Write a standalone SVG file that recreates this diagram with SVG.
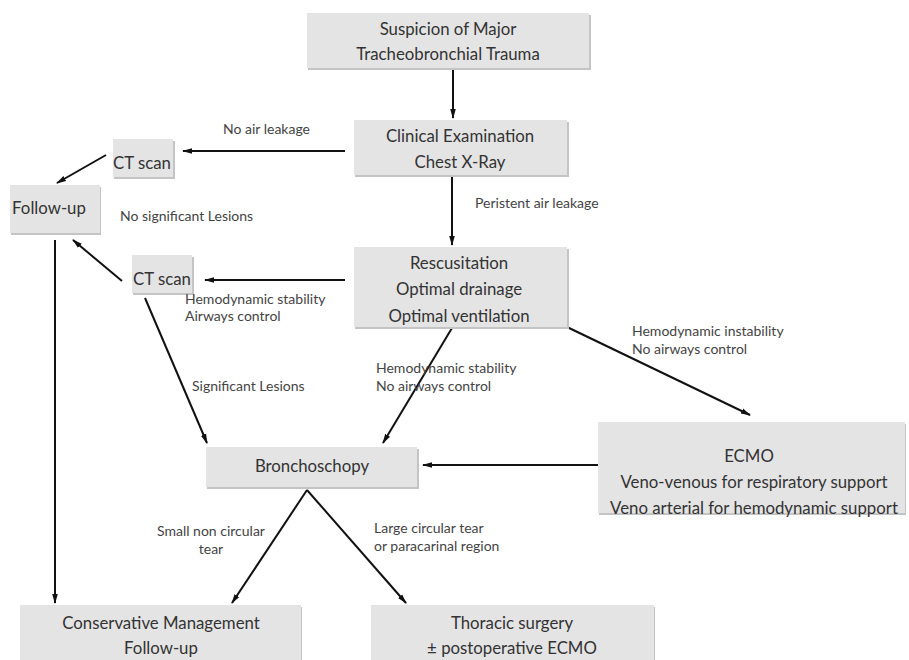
<svg xmlns="http://www.w3.org/2000/svg" width="909" height="660" viewBox="0 0 909 660">
<style>
.box{fill:#e4e4e4;}
.sh{fill:#c4c4c4;}
.t{font-family:Lato,"Open Sans","Liberation Sans",sans-serif;font-size:16.8px;fill:#333;text-anchor:middle;dominant-baseline:central;}
.l{font-family:Lato,"Open Sans","Liberation Sans",sans-serif;font-size:14px;fill:#444;dominant-baseline:central;}
.c{stroke:#111;stroke-width:2;fill:none;marker-end:url(#ah);}
</style>
<defs>
<marker id="ah" markerUnits="userSpaceOnUse" markerWidth="10" markerHeight="8" refX="9" refY="4" orient="auto">
<path d="M0,1.2 L10,4 L0,6.8 Z" fill="#111"/>
</marker>
</defs>
<rect width="909" height="660" fill="#fff"/>
<g id="connectors">
<line class="c" x1="453" y1="69" x2="453" y2="118"/>
<line class="c" x1="345" y1="151" x2="183" y2="151"/>
<line class="c" x1="106" y1="155" x2="57" y2="183"/>
<line class="c" x1="452" y1="176" x2="452" y2="245"/>
<line class="c" x1="345" y1="280" x2="205" y2="280"/>
<line class="c" x1="122" y1="281" x2="73" y2="240"/>
<line class="c" x1="55" y1="240" x2="55" y2="603"/>
<line class="c" x1="145" y1="298" x2="207" y2="443"/>
<line class="c" x1="452" y1="328" x2="383" y2="443"/>
<line class="c" x1="567" y1="327" x2="750" y2="415"/>
<line class="c" x1="598" y1="465" x2="423" y2="465"/>
<line class="c" x1="307" y1="490" x2="232" y2="603"/>
<line class="c" x1="307" y1="490" x2="406" y2="603"/>
</g>
<g id="n_suspicion">
<rect class="sh" x="308" y="15" width="283" height="55"/>
<rect class="box" x="307" y="13" width="282" height="55"/>
<text class="t" x="448" y="28">Suspicion of Major</text>
<text class="t" x="448" y="53">Tracheobronchial Trauma</text>
</g>
<g id="n_clinical">
<rect class="sh" x="355" y="122" width="214" height="55"/>
<rect class="box" x="354" y="120" width="213" height="55"/>
<text class="t" x="460" y="135">Clinical Examination</text>
<text class="t" x="460" y="161">Chest X-Ray</text>
</g>
<g id="n_ct1">
<rect class="sh" x="114" y="141" width="61" height="38"/>
<rect class="box" x="113" y="139" width="60" height="38"/>
<text class="t" x="142" y="162">CT scan</text>
</g>
<g id="n_followup">
<rect class="sh" x="11" y="187" width="90" height="48"/>
<rect class="box" x="10" y="185" width="90" height="48"/>
<text class="t" x="49" y="207">Follow-up</text>
</g>
<g id="n_rescusitation">
<rect class="sh" x="355" y="249" width="214" height="80"/>
<rect class="box" x="354" y="247" width="213" height="80"/>
<text class="t" x="459" y="262">Rescusitation</text>
<text class="t" x="459" y="288">Optimal drainage</text>
<text class="t" x="459" y="315">Optimal ventilation</text>
</g>
<g id="n_ct2">
<rect class="sh" x="133" y="257" width="61" height="38"/>
<rect class="box" x="132" y="255" width="60" height="38"/>
<text class="t" x="162" y="278">CT scan</text>
</g>
<g id="n_broncho">
<rect class="sh" x="207" y="449" width="212" height="40"/>
<rect class="box" x="206" y="447" width="211" height="40"/>
<text class="t" x="312" y="465">Bronchoschopy</text>
</g>
<g id="n_ecmo">
<rect class="sh" x="599" y="424" width="307" height="91"/>
<rect class="box" x="598" y="422" width="307" height="91"/>
<text class="t" x="749" y="455">ECMO</text>
<text class="t" x="754" y="481">Veno-venous for respiratory support</text>
<text class="t" x="754" y="507">Veno arterial for hemodynamic support</text>
</g>
<g id="n_conservative">
<rect class="sh" x="21" y="607" width="281" height="55"/>
<rect class="box" x="20" y="605" width="281" height="55"/>
<text class="t" x="161" y="622">Conservative Management</text>
<text class="t" x="161" y="647">Follow-up</text>
</g>
<g id="n_thoracic">
<rect class="sh" x="372" y="607" width="283" height="55"/>
<rect class="box" x="371" y="605" width="283" height="55"/>
<text class="t" x="512" y="622">Thoracic surgery</text>
<text class="t" x="512" y="647">± postoperative ECMO</text>
</g>
<g id="labels">
<text class="l" x="223" y="128">No air leakage</text>
<text class="l" x="120" y="215">No significant Lesions</text>
<text class="l" x="475" y="202">Peristent air leakage</text>
<text class="l" x="185" y="298">Hemodynamic stability</text>
<text class="l" x="185" y="315">Airways control</text>
<text class="l" x="192" y="385">Significant Lesions</text>
<text class="l" x="376" y="367">Hemodynamic stability</text>
<text class="l" x="376" y="385">No airways control</text>
<text class="l" x="632" y="330">Hemodynamic instability</text>
<text class="l" x="632" y="348">No airways control</text>
<text class="l" x="211" y="530" text-anchor="middle">Small non circular</text>
<text class="l" x="211" y="548" text-anchor="middle">tear</text>
<text class="l" x="374" y="527">Large circular tear</text>
<text class="l" x="374" y="545">or paracarinal region</text>
</g>
</svg>
